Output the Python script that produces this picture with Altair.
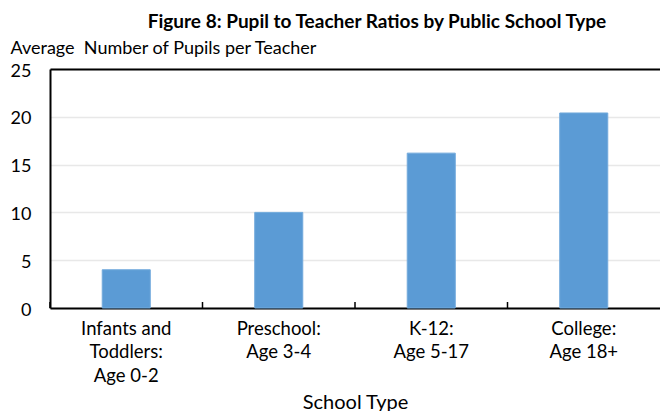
import altair as alt
import pandas as pd

# School types (lines separated by "|") and average pupils per teacher
school_types = [
    "Infants and|Toddlers:|Age 0-2",
    "Preschool:|Age 3-4",
    "K-12:|Age 5-17",
    "College:|Age 18+",
]
pupils_per_teacher = [4.0, 10.0, 16.2, 20.4]
y_ticks = [0, 5, 10, 15, 20, 25]

df = pd.DataFrame({"school": school_types, "ratio": pupils_per_teacher})

FONT = "Lato"
W, H = 610, 239

x_scale = alt.Scale(domain=school_types, paddingInner=0, paddingOuter=0)

bars = alt.Chart(df).mark_bar(
    color="#5B9BD5", stroke="#72aadc", strokeWidth=1,
    width=alt.RelativeBandSize(0.315),
).encode(
    x=alt.X(
        "school:N", scale=x_scale, sort=school_types, title="School Type",
        axis=alt.Axis(
            labelExpr="split(datum.label, '|')",
            labelAngle=0, labelFont=FONT, labelFontSize=18.5, labelColor="black",
            labelLineHeight=23.5, labelBaseline="top", labelPadding=11,
            ticks=False, domainColor="black", domainWidth=2,
            titleFont=FONT, titleFontSize=20, titleFontWeight="normal",
            titleColor="black", titlePadding=8,
        ),
    ),
    y=alt.Y(
        "ratio:Q", scale=alt.Scale(domain=[0, 25], nice=False),
        title="Average\u00a0 Number of Pupils per Teacher",
        axis=alt.Axis(
            values=y_ticks, ticks=False, labelPadding=19,
            labelFont=FONT, labelFontSize=18, labelColor="black", labelOffset=2,
            domainColor="black", domainWidth=2,
            gridColor="#e8e8e8", gridWidth=1.5,
            titleAngle=0, titleAlign="left", titleBaseline="alphabetic",
            titleX=-40, titleY=-16, titleFont=FONT, titleFontSize=18,
            titleFontWeight="normal", titleColor="black",
        ),
    ),
)

# small inward tick marks between school types, plus the top frame line
ticks = alt.Chart(df).mark_rule(color="black", strokeWidth=1.5).encode(
    x=alt.X(
        "school:N", scale=x_scale, sort=school_types, bandPosition=0,
        axis=alt.Axis(orient="top", labels=False, ticks=False, title=None,
                      domainColor="black", domainWidth=2, grid=False),
    ),
    y=alt.value(H - 6),
    y2=alt.value(H),
)

chart = alt.layer(bars, ticks).resolve_axis(x="independent").properties(
    width=W, height=H,
    padding={"left": 50, "top": 69, "right": 0, "bottom": 103},
    autosize=alt.AutoSizeParams(type="none"),
    title=alt.TitleParams(
        "Figure 8: Pupil to Teacher Ratios by Public School Type",
        font=FONT, fontSize=19, fontWeight="bold", color="black",
        anchor="middle", frame="group", dx=22, offset=7,
    ),
).configure_view(stroke=None)

chart.save("out.html", embed_options={"renderer": "svg", "actions": False})
